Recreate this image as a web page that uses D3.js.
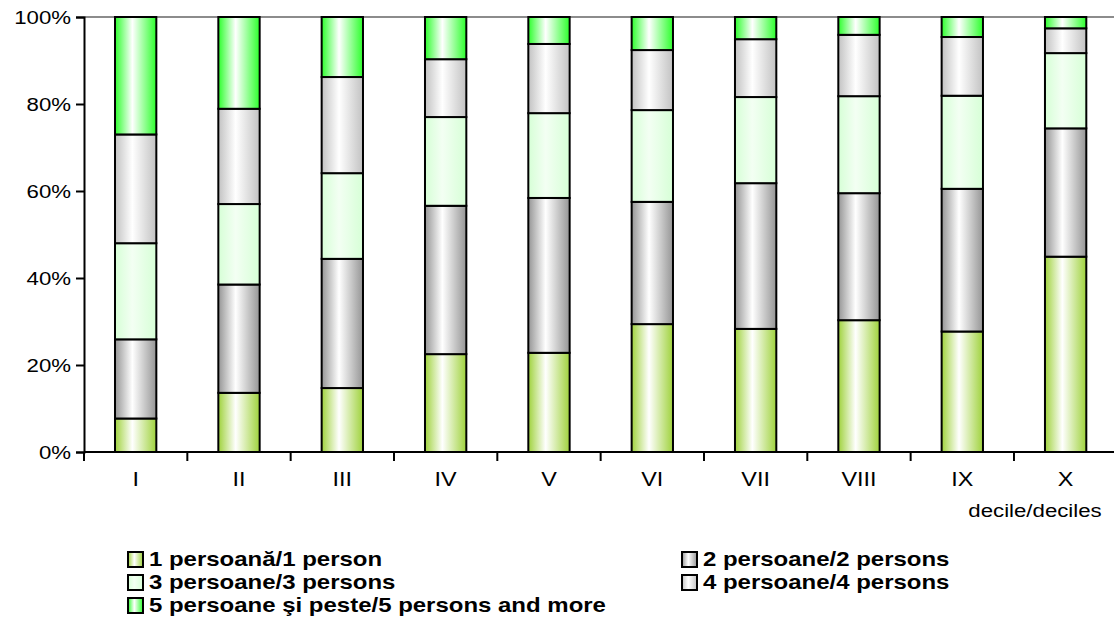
<!DOCTYPE html>
<html>
<head>
<meta charset="utf-8">
<script src="https://cdn.jsdelivr.net/npm/d3@7"></script>
<style>
  body { margin: 0; background: #fff; }
  svg { display: block; font-family: "Liberation Sans", Arial, sans-serif; }
</style>
</head>
<body>
<div id="chart"></div>
<script>
// deciles and household-size shares (%)
var deciles = ["I", "II", "III", "IV", "V", "VI", "VII", "VIII", "IX", "X"];
var seriesNames = ["1 persoană/1 person", "2 persoane/2 persons", "3 persoane/3 persons",
                   "4 persoane/4 persons", "5 persoane şi peste/5 persons and more"];
var person1 = [7.7, 13.6, 14.7, 22.5, 22.8, 29.4, 28.3, 30.3, 27.7, 44.9];
var person2 = [18.2, 24.9, 29.7, 34.1, 35.6, 28.1, 33.5, 29.2, 32.8, 29.5];
var person3 = [22.1, 18.5, 19.7, 20.4, 19.5, 21.1, 19.8, 22.3, 21.4, 17.3];
var person4 = [25.0, 21.9, 22.1, 13.3, 15.9, 13.8, 13.3, 14.1, 13.5, 5.7];
var person5 = [27.0, 21.1, 13.8, 9.7, 6.2, 7.6, 5.1, 4.1, 4.6, 2.6];
var yTicks = [0, 20, 40, 60, 80, 100];

var W = 1114, H = 638;
var margin = {left: 84, top: 17, bottom: 186};
var stretch = 1.17;   // the original text is a bit wide

var svg = d3.select("#chart").append("svg")
    .attr("width", W).attr("height", H);

// widen a text around its anchor point
function widen(sel) {
  sel.attr("transform", function () {
    var tx = +d3.select(this).attr("x") || 0;
    return "translate(" + tx + ",0) scale(" + stretch + ",1) translate(" + (-tx) + ",0)";
  });
}

// gradients: dark edges, light middle
var grads = [
  {id: "g1", edge: "#9fd23c", mid: "#ffffff"},
  {id: "g2", edge: "#959595", mid: "#ffffff"},
  {id: "g3", edge: "#d6ffd6", mid: "#f3fff3"},
  {id: "g4", edge: "#c2c2c2", mid: "#ffffff"},
  {id: "g5", edge: "#2cff2c", mid: "#ffffff"}
];
var defs = svg.append("defs");
grads.forEach(function (g) {
  var lg = defs.append("linearGradient").attr("id", g.id)
      .attr("x1", "0%").attr("x2", "100%").attr("y1", "0%").attr("y2", "0%");
  lg.append("stop").attr("offset", "0%").attr("stop-color", g.edge);
  lg.append("stop").attr("offset", "42%").attr("stop-color", g.mid);
  lg.append("stop").attr("offset", "100%").attr("stop-color", g.edge);
});

var x = d3.scaleBand().domain(deciles)
    .range([margin.left, margin.left + 1033.3])
    .paddingInner(0.6).paddingOuter(0.3);
var y = d3.scaleLinear().domain([0, 100]).range([H - margin.bottom, margin.top]);

var table = deciles.map(function (d, i) {
  return {decile: d, s0: person1[i], s1: person2[i], s2: person3[i], s3: person4[i], s4: person5[i]};
});
var stacked = d3.stack().keys(["s0", "s1", "s2", "s3", "s4"])(table);

// top border line
svg.append("line")
    .attr("x1", margin.left).attr("x2", W)
    .attr("y1", y(100)).attr("y2", y(100))
    .attr("stroke", "#8c8c8c").attr("stroke-width", 2);

var layers = svg.selectAll("g.layer").data(stacked).enter()
    .append("g").attr("class", "layer")
    .attr("fill", function (d, i) { return "url(#" + grads[i].id + ")"; });

layers.selectAll("rect").data(function (d) { return d; }).enter()
    .append("rect")
    .attr("x", function (d) { return x(d.data.decile); })
    .attr("width", x.bandwidth())
    .attr("y", function (d) { return y(Math.min(d[1], 100)); })
    .attr("height", function (d) { return y(d[0]) - y(Math.min(d[1], 100)); })
    .attr("stroke", "#000").attr("stroke-width", 2);

// y axis
var yAxis = svg.append("g")
    .attr("transform", "translate(" + margin.left + ",0)")
    .call(d3.axisLeft(y).tickValues(yTicks).tickSize(8).tickPadding(5)
      .tickFormat(function (d) { return d + "%"; }));
yAxis.select(".domain").attr("stroke", "#000").attr("stroke-width", 2);
yAxis.selectAll(".tick line").attr("stroke", "#000").attr("stroke-width", 2);
yAxis.selectAll("text").attr("font-size", 19).attr("fill", "#000")
    .attr("font-family", "Liberation Sans, Arial, sans-serif")
    .call(widen);

// x axis with ticks at band boundaries
var xAxisY = y(0);
svg.append("line")
    .attr("x1", margin.left).attr("x2", W)
    .attr("y1", xAxisY).attr("y2", xAxisY)
    .attr("stroke", "#000").attr("stroke-width", 2);
var step = x.step();
var boundaries = deciles.map(function (d) { return x(d) - step * 0.3; });
svg.selectAll("line.xtick").data(boundaries).enter()
    .append("line").attr("class", "xtick")
    .attr("x1", function (d) { return d; }).attr("x2", function (d) { return d; })
    .attr("y1", xAxisY).attr("y2", xAxisY + 9)
    .attr("stroke", "#000").attr("stroke-width", 2);
svg.selectAll("text.xlab").data(deciles).enter()
    .append("text").attr("class", "xlab")
    .attr("x", function (d) { return x(d) + x.bandwidth() / 2; })
    .attr("y", 486)
    .attr("text-anchor", "middle").attr("font-size", 20)
    .text(function (d) { return d; })
    .call(widen);

svg.append("text")
    .attr("x", 1035).attr("y", 517)
    .attr("text-anchor", "middle").attr("font-size", 19)
    .text("decile/deciles")
    .call(widen);

// legend
var legendPos = [
  {x: 128, y: 566}, {x: 682, y: 566},
  {x: 128, y: 589}, {x: 682, y: 589},
  {x: 128, y: 612}
];
var legend = svg.selectAll("g.leg").data(seriesNames).enter()
    .append("g").attr("class", "leg")
    .attr("transform", function (d, i) {
      return "translate(" + legendPos[i].x + "," + legendPos[i].y + ")";
    });
legend.append("rect")
    .attr("x", 0).attr("y", -14).attr("width", 15).attr("height", 15)
    .attr("fill", function (d, i) { return "url(#" + grads[i].id + ")"; })
    .attr("stroke", "#000").attr("stroke-width", 2);
legend.append("text")
    .attr("x", 21).attr("y", 0)
    .attr("font-size", 20.5).attr("font-weight", "bold")
    .text(function (d) { return d; })
    .call(widen);
</script>
</body>
</html>
